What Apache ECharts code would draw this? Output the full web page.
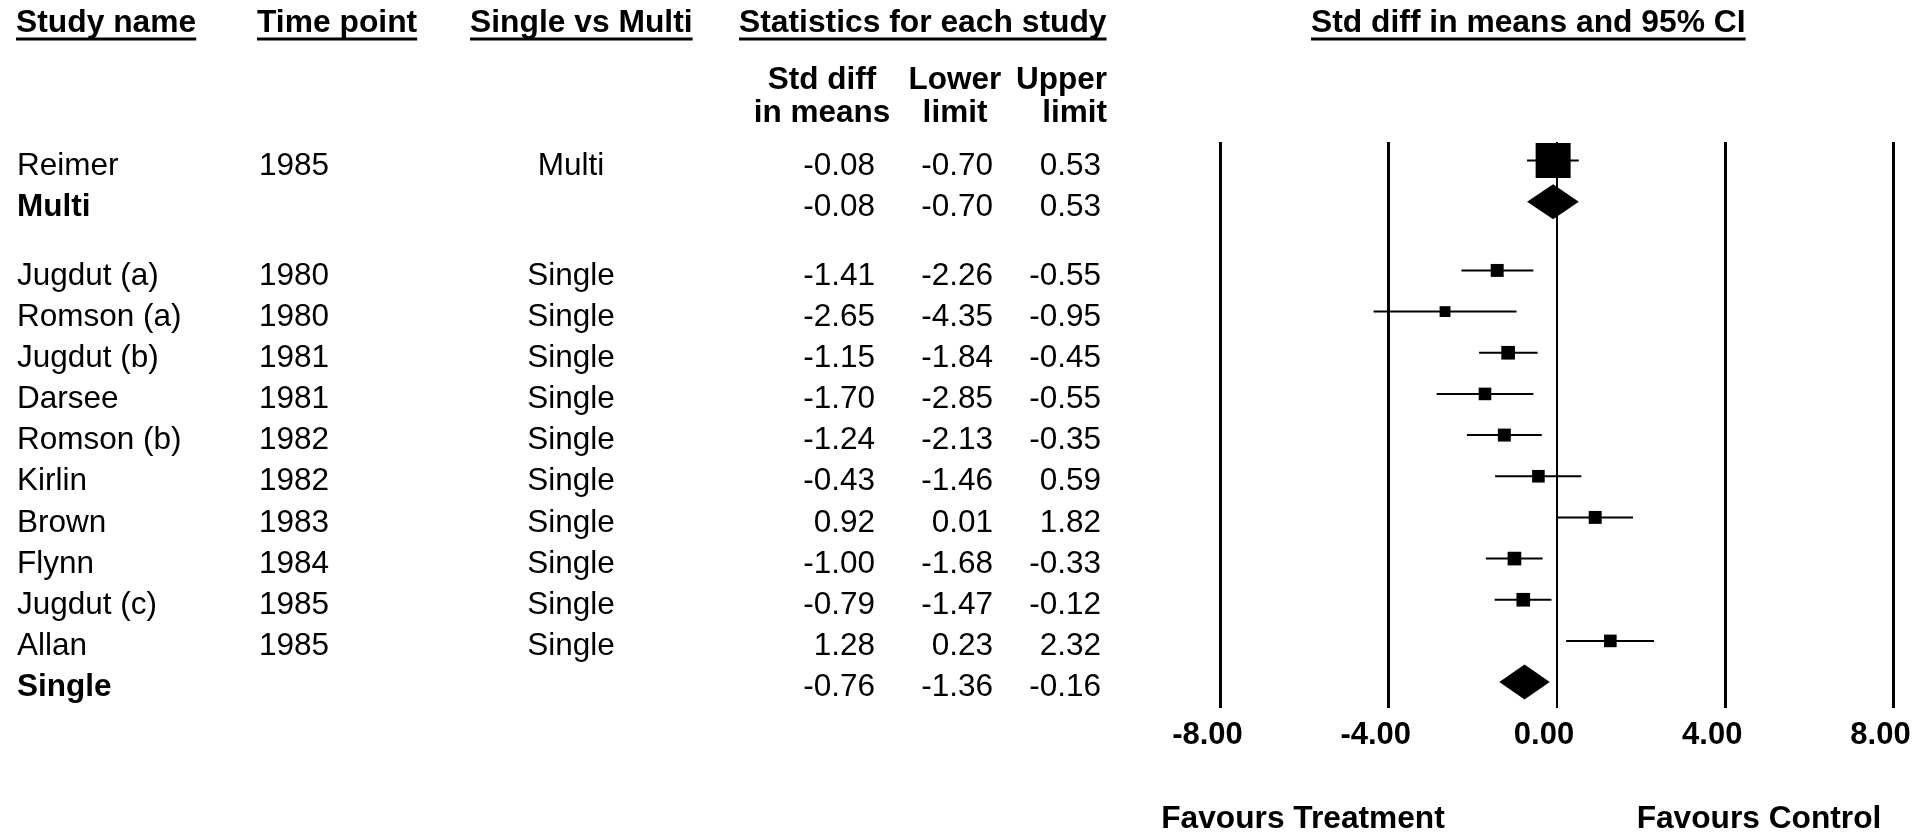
<!DOCTYPE html>
<html><head><meta charset="utf-8">
<script src="https://cdn.jsdelivr.net/npm/echarts@6/dist/echarts.min.js"></script>
<style>html,body{margin:0;padding:0;background:#fff;}#c{width:1919px;height:833px;}</style>
</head><body><div id="c"></div>
<script>
// ---------------- data ----------------
const studyNames  = ['Reimer','Multi','Jugdut (a)','Romson (a)','Jugdut (b)','Darsee','Romson (b)','Kirlin','Brown','Flynn','Jugdut (c)','Allan','Single'];
const timePoints  = ['1985','','1980','1980','1981','1981','1982','1982','1983','1984','1985','1985',''];
const groupLabels = ['Multi','','Single','Single','Single','Single','Single','Single','Single','Single','Single','Single',''];
const rowKinds    = ['study','summary','study','study','study','study','study','study','study','study','study','study','summary'];
const stdDiff     = [-0.08,-0.08,-1.41,-2.65,-1.15,-1.70,-1.24,-0.43,0.92,-1.00,-0.79,1.28,-0.76];
const lowerLimit  = [-0.70,-0.70,-2.26,-4.35,-1.84,-2.85,-2.13,-1.46,0.01,-1.68,-1.47,0.23,-1.36];
const upperLimit  = [0.53,0.53,-0.55,-0.95,-0.45,-0.55,-0.35,0.59,1.82,-0.33,-0.12,2.32,-0.16];
const boxWeights  = [100,null,37,31,39,36,37,36,37,39,39,36,null]; // relative box weight
const xTicks      = [-8,-4,0,4,8];
const xTickLabels = xTicks.map(v => v.toFixed(2));
const headerTitles = ['Study name','Time point','Single vs Multi','Statistics for each study','Std diff in means and 95% CI'];
const axisTitles = ['Favours Treatment','Favours Control'];

// ---------------- layout ----------------
const FONT = '"Liberation Sans", Arial, Helvetica, sans-serif';
const GROUP_GAP = 0.67;
const rowY = [];
{ let extra = 0; rowKinds.forEach((k, i) => { rowY.push(i + extra); if (k === 'summary') extra += GROUP_GAP; }); }

const measure = (() => { const c = document.createElement('canvas').getContext('2d');
  return (t, font) => { c.font = font; return c.measureText(t).width; }; })();

const hdrFont = 'bold 31.8px ' + FONT;
const hdrLeft = [16, 257, 470, 739, 1311];
const graphics = [];
headerTitles.forEach((t, k) => {
  const w = measure(t, hdrFont);
  graphics.push({type:'text', x: hdrLeft[k], y: 23, style:{text:t, font:hdrFont, fill:'#000', align:'left', verticalAlign:'middle'}});
  graphics.push({type:'rect', shape:{x: hdrLeft[k], y: 37.5, width: w, height: 3}, style:{fill:'#000'}});
});
const sub = 'bold 31.5px ' + FONT;
[['Std diff',822,80,'center'],['in means',822,113,'center'],['Lower',955,80,'center'],['limit',955,113,'center'],['Upper',1107,80,'right'],['limit',1107,113,'right']]
  .forEach(([t,x,y,a]) => graphics.push({type:'text', x, y, style:{text:t, font:sub, fill:'#000', align:a, verticalAlign:'middle'}}));
[[axisTitles[0],1303],[axisTitles[1],1759]].forEach(([t,x]) =>
  graphics.push({type:'text', x, y: 819, style:{text:t, font:'bold 31.7px ' + FONT, fill:'#000', align:'center', verticalAlign:'middle'}}));

const rows = studyNames.map((n, i) => [i, rowY[i], stdDiff[i], lowerLimit[i], upperLimit[i]]);

function renderTable(params, api) {
  const i = api.value(0);
  const y = api.coord([0, api.value(1)])[1] + 5.5;
  const bold = rowKinds[i] === 'summary';
  const t = (text, x, align, weight) => ({type:'text', x, y,
    style:{text, fill:'#000', font:(weight || 'normal') + ' 31.5px ' + FONT, align, verticalAlign:'middle'}});
  return {type:'group', children:[
    t(studyNames[i], 17, 'left', bold ? 'bold' : 'normal'),
    t(timePoints[i], 259, 'left'),
    t(groupLabels[i], 571, 'center'),
    t(stdDiff[i].toFixed(2), 875, 'right'),
    t(lowerLimit[i].toFixed(2), 993, 'right'),
    t(upperLimit[i].toFixed(2), 1101, 'right')
  ]};
}

function renderForest(params, api) {
  const i = api.value(0), yv = api.value(1);
  const pE = api.coord([api.value(2), yv]), pL = api.coord([api.value(3), yv]), pH = api.coord([api.value(4), yv]);
  if (rowKinds[i] === 'summary') {
    const h = 17.5;
    return {type:'polygon', shape:{points:[[pL[0],pE[1]],[pE[0],pE[1]-h],[pH[0],pE[1]],[pE[0],pE[1]+h]]}, style:{fill:'#000'}};
  }
  const s = boxWeights[i] * 0.35;
  return {type:'group', children:[
    {type:'line', shape:{x1:pL[0], y1:pE[1], x2:pH[0], y2:pE[1]}, style:{stroke:'#000', lineWidth:2}},
    {type:'rect', shape:{x:pE[0]-s/2, y:pE[1]-s/2, width:s, height:s}, style:{fill:'#000'}}
  ]};
}

const chart = echarts.init(document.getElementById('c'), null, {renderer:'canvas'});
chart.setOption({
  animation:false,
  backgroundColor:'#fff',
  grid:{left:1220, width:673, top:142, height:566},
  xAxis:{type:'value', min:-8, max:8, interval:4,
    axisLine:{show:false}, axisTick:{show:false}, splitLine:{show:false},
    axisLabel:{formatter: v => xTickLabels[xTicks.indexOf(v)] ?? v.toFixed(2), color:'#000', fontWeight:'bold', fontSize:31, fontFamily:FONT, margin:12, padding:[0,25,0,0]}},
  yAxis:{type:'value', inverse:true, min:-0.45, max:13.3, show:false},
  graphic: graphics,
  series:[
    {type:'line', data:[], silent:true,
      markLine:{symbol:'none', silent:true, label:{show:false}, animation:false,
        data: xTicks.map(v => ({xAxis:v, lineStyle:{color:'#000', type:'solid', width: v === 0 ? 2 : 3}}))}},
    {type:'custom', data:rows, encode:{x:[2,3,4], y:1}, renderItem:renderForest, clip:false, z:3},
    {type:'custom', data:rows, encode:{x:[2,3,4], y:1}, renderItem:renderTable, clip:false, z:3}
  ]
});
</script></body></html>
